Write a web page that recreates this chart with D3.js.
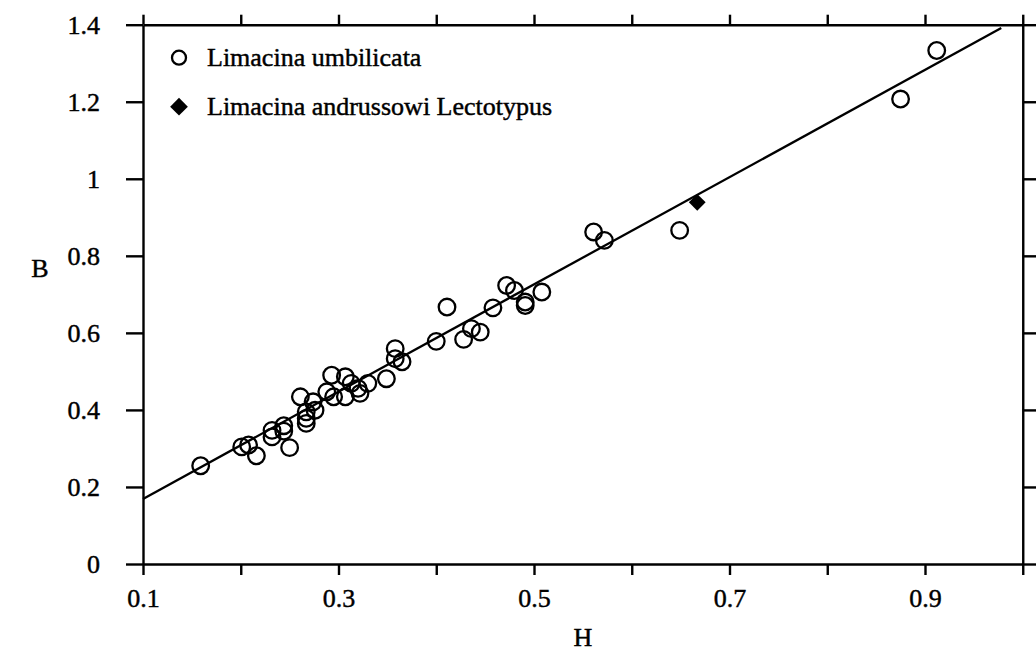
<!DOCTYPE html>
<html>
<head>
<meta charset="utf-8">
<script src="https://cdn.jsdelivr.net/npm/d3@7"></script>
<style>
  body { margin: 0; background: #fff; }
  svg text { font-family: "Liberation Serif", "Times New Roman", serif; fill: #000; stroke: #000; stroke-width: 0.45px; }
</style>
</head>
<body>
<div id="container"></div>
<script>
// Limacina umbilicata: H (height) and B (breadth)
let umbH = [0.159, 0.201, 0.208, 0.216, 0.232, 0.232, 0.244, 0.244, 0.250, 0.261,
            0.267, 0.267, 0.267, 0.276, 0.274, 0.288, 0.295, 0.293, 0.307, 0.307,
            0.313, 0.320, 0.322, 0.330, 0.349, 0.358, 0.358, 0.365, 0.400, 0.411,
            0.428, 0.436, 0.445, 0.458, 0.472, 0.480, 0.491, 0.491, 0.508, 0.561,
            0.572, 0.649, 0.875, 0.912];
let umbB = [0.255, 0.304, 0.309, 0.281, 0.347, 0.330, 0.359, 0.345, 0.302, 0.434,
            0.365, 0.378, 0.395, 0.399, 0.421, 0.447, 0.434, 0.490, 0.486, 0.434,
            0.469, 0.456, 0.443, 0.469, 0.481, 0.559, 0.533, 0.525, 0.578, 0.667,
            0.583, 0.611, 0.602, 0.665, 0.723, 0.710, 0.680, 0.671, 0.706, 0.862,
            0.840, 0.866, 1.207, 1.333];

// Limacina andrussowi lectotype
let lectoH = [0.667];
let lectoB = [0.939];

// regression line B = a + b*H, drawn between H = 0.1 and 0.978
let fitA = 0.0298, fitB = 1.392;
let fitRange = [0.1, 0.978];

let xTicks = [0.1, 0.2, 0.3, 0.4, 0.5, 0.6, 0.7, 0.8, 0.9, 1.0];
let xLabels = ["0.1", "", "0.3", "", "0.5", "", "0.7", "", "0.9", ""];
let yTicks = [0, 0.2, 0.4, 0.6, 0.8, 1, 1.2, 1.4];
let yLabels = ["0", "0.2", "0.4", "0.6", "0.8", "1", "1.2", "1.4"];

let legendNames = ["Limacina umbilicata", "Limacina andrussowi Lectotypus"];

let margin = {top: 24.7, right: 13.25, bottom: 95, left: 143};
let width = 1036 - margin.left - margin.right,
    height = 659 - margin.top - margin.bottom;

let svg = d3.select("#container").append("svg")
    .attr("width", 1036)
    .attr("height", 659)
    .append("g")
    .attr("transform", "translate(" + margin.left + "," + margin.top + ")");

let x = d3.scaleLinear().domain([0.1, 1.0]).range([0, width]);
let y = d3.scaleLinear().domain([0, 1.4]).range([height, 0]);

function styleAxis(g) {
    g.select(".domain").attr("stroke", "#000").attr("stroke-width", 2.4);
    g.selectAll(".tick line").attr("stroke", "#000").attr("stroke-width", 2.4);
    g.selectAll(".tick text")
        .attr("font-family", "Liberation Serif, serif")
        .attr("font-size", 26)
        .attr("fill", "#000");
}

svg.append("g")
    .attr("transform", "translate(0," + height + ")")
    .call(d3.axisBottom(x).tickValues(xTicks).tickSize(11).tickSizeOuter(0).tickPadding(14)
        .tickFormat(function(d, i) { return xLabels[i]; }))
    .call(styleAxis);

svg.append("g")
    .call(d3.axisTop(x).tickValues(xTicks).tickSize(10).tickSizeOuter(0).tickFormat(""))
    .call(styleAxis);

svg.append("g")
    .call(d3.axisLeft(y).tickValues(yTicks).tickSize(17).tickSizeOuter(0).tickPadding(26)
        .tickFormat(function(d, i) { return yLabels[i]; }))
    .call(styleAxis);

svg.append("g")
    .attr("transform", "translate(" + width + ",0)")
    .call(d3.axisRight(y).tickValues(yTicks).tickSize(14).tickSizeOuter(0).tickFormat(""))
    .call(styleAxis);

// regression line
svg.append("line")
    .attr("x1", x(fitRange[0]))
    .attr("y1", y(fitA + fitB * fitRange[0]))
    .attr("x2", x(fitRange[1]))
    .attr("y2", y(fitA + fitB * fitRange[1]))
    .attr("stroke", "#000")
    .attr("stroke-width", 2.3);

// open circles
svg.selectAll(".umb")
    .data(umbH)
    .enter().append("circle")
    .attr("class", "umb")
    .attr("cx", function(d) { return x(d); })
    .attr("cy", function(d, i) { return y(umbB[i]); })
    .attr("r", 8.3)
    .attr("fill", "none")
    .attr("stroke", "#000")
    .attr("stroke-width", 2.3);

let diamond = d3.symbol().type(d3.symbolDiamond2).size(180);

svg.selectAll(".lecto")
    .data(lectoH)
    .enter().append("path")
    .attr("class", "lecto")
    .attr("d", diamond)
    .attr("transform", function(d, i) { return "translate(" + x(d) + "," + y(lectoB[i]) + ")"; })
    .attr("fill", "#000");

// legend
let legend = svg.append("g").attr("transform", "translate(36,33)");

legend.append("circle")
    .attr("cx", 0).attr("cy", 0).attr("r", 7)
    .attr("fill", "none").attr("stroke", "#000").attr("stroke-width", 2.3);
legend.append("path")
    .attr("d", d3.symbol().type(d3.symbolDiamond2).size(200))
    .attr("transform", "translate(0,49)")
    .attr("fill", "#000");

legend.selectAll("text")
    .data(legendNames)
    .enter().append("text")
    .attr("x", 28)
    .attr("y", function(d, i) { return i * 49; })
    .attr("dy", "0.33em")
    .attr("font-size", 26)
    .text(function(d) { return d; });

// axis titles
svg.append("text")
    .attr("x", 583 - margin.left)
    .attr("y", 637 - margin.top)
    .attr("dy", "0.35em")
    .attr("text-anchor", "middle")
    .attr("font-size", 26)
    .text("H");

svg.append("text")
    .attr("x", 40 - margin.left)
    .attr("y", 268 - margin.top)
    .attr("dy", "0.35em")
    .attr("text-anchor", "middle")
    .attr("font-size", 26)
    .text("B");
</script>
</body>
</html>
